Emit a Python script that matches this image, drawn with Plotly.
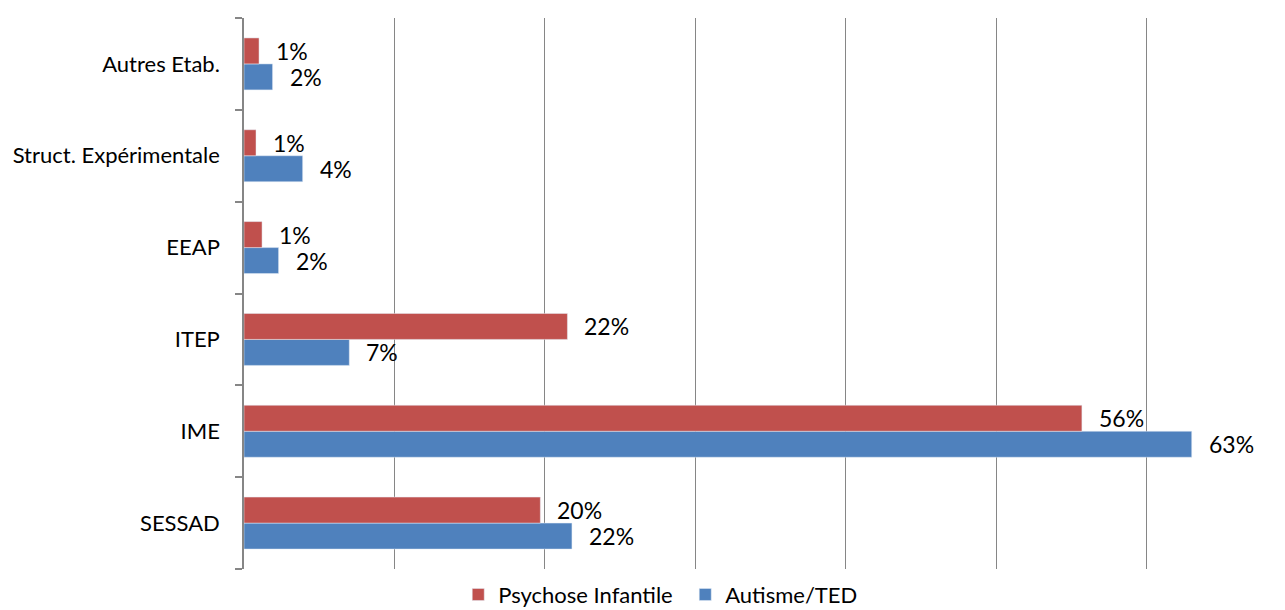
import plotly.graph_objects as go

categories = ["SESSAD", "IME", "ITEP", "EEAP", "Struct. Expérimentale", "Autres Etab."]
psychose = [0.197, 0.557, 0.215, 0.012, 0.008, 0.010]
autisme = [0.218, 0.630, 0.070, 0.023, 0.039, 0.019]
psychose_labels = ["20%", "56%", "22%", "1%", "1%", "1%"]
autisme_labels = ["22%", "63%", "7%", "2%", "4%", "2%"]

RED = "#C0504D"
BLUE = "#4F81BD"
GRID = "#868686"
FONT = "Lato"

fig = go.Figure()
fig.add_trace(go.Bar(y=categories, x=autisme, orientation="h", name="Autisme/TED",
                     marker=dict(color=BLUE), legendrank=2))
fig.add_trace(go.Bar(y=categories, x=psychose, orientation="h", name="Psychose Infantile",
                     marker=dict(color=RED), legendrank=1))

annotations = []
for cat, v, lab in zip(categories, psychose, psychose_labels):
    annotations.append(dict(x=v, y=cat, text=lab, showarrow=False, xanchor="left",
                            xshift=15, yshift=13, font=dict(family=FONT, size=23, color="#000")))
for cat, v, lab in zip(categories, autisme, autisme_labels):
    annotations.append(dict(x=v, y=cat, text=lab, showarrow=False, xanchor="left",
                            xshift=15, yshift=-13, font=dict(family=FONT, size=23, color="#000")))

fig.update_layout(
    width=1277, height=602,
    margin=dict(l=236, r=0, t=10, b=41, autoexpand=False),
    barmode="group", bargap=0.434, bargroupgap=0,
    plot_bgcolor="white", paper_bgcolor="white",
    font=dict(family=FONT, size=22, color="#000"),
    annotations=annotations,
    showlegend=True,
    legend=dict(orientation="h", x=0.2058, xanchor="left", y=-0.0085, yanchor="top",
                font=dict(family=FONT, size=22, color="#000"), traceorder="normal",
                itemwidth=30, entrywidth=182),
    xaxis=dict(range=[0, 0.692], dtick=0.1, showgrid=True, gridcolor=GRID, gridwidth=1,
               showticklabels=False, zeroline=False, showline=False, ticks="",
               automargin=False),
    yaxis=dict(type="category", showline=True, linecolor=GRID, linewidth=1.5,
               ticks="outside", ticklen=7, tickcolor=GRID, tickwidth=1.5,
               tickson="boundaries", showgrid=False, ticklabelstandoff=18,
               automargin=False,
               tickfont=dict(family=FONT, size=22, color="#000")),
)

fig.write_html("out.html")
